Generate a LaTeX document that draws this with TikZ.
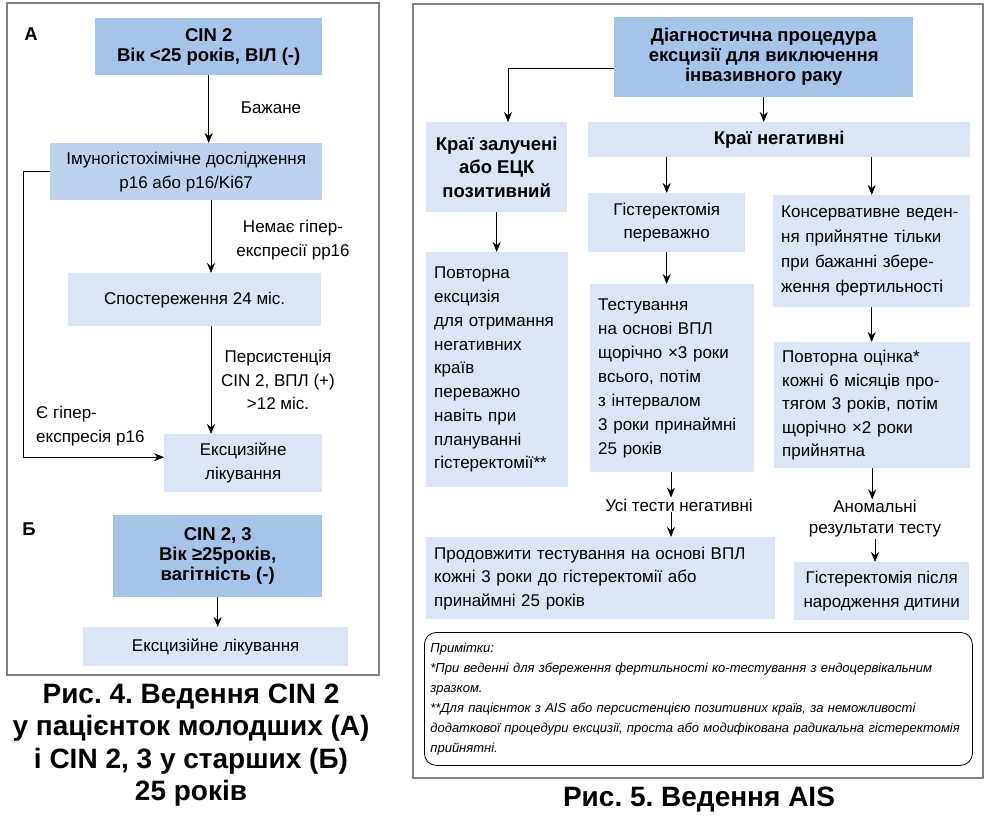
\documentclass[tikz,border=0pt]{standalone}
\usepackage{fontspec}
\setmainfont{Liberation Sans}
\usepackage{tikz}
\usetikzlibrary{arrows.meta}
\usetikzlibrary{calc}
\frenchspacing

\definecolor{boxdark}{RGB}{166,196,231}
\definecolor{boxmid}{RGB}{190,210,238}
\definecolor{boxlight}{RGB}{220,229,243}
\definecolor{framegray}{RGB}{128,128,128}

\newcommand{\txtsize}{\fontsize{17}{23.5}\selectfont}
\newcommand{\headsize}{\fontsize{18.5}{20}\selectfont\bfseries}
\newcommand{\capsize}{\fontsize{28}{32.5}\selectfont\bfseries}
\newcommand{\notesize}{\fontsize{13}{20}\selectfont\itshape}

\begin{document}
\begin{tikzpicture}[x=1pt,y=-1pt]
\tikzstyle{box}=[anchor=north west,inner sep=0pt,align=center,font=\txtsize]
\tikzstyle{head}=[box,fill=boxdark,font=\headsize]
\tikzstyle{lbox}=[anchor=north west,inner xsep=8pt,inner ysep=0pt,align=left,font=\txtsize,fill=boxlight]
\tikzstyle{lab}=[inner sep=1pt,align=center,font=\txtsize]
\tikzstyle{arr}=[line width=0.8pt,-{Stealth[length=10pt,width=8pt]}]
\tikzstyle{panel}=[draw=framegray,line width=1.2pt]
\useasboundingbox (0,0) rectangle (990,824);

% Рис. 4
\draw[panel] (7,3) rectangle (379,675);
\node[font=\headsize] (lblA) at (31,34) {А};
\node[head,minimum width=227pt,minimum height=57pt] (cinA) at (95,18) {CIN 2\\Вік <25 років, ВІЛ (-)};
\node[box,fill=boxmid,minimum width=272pt,minimum height=57pt,font=\fontsize{17}{24}\selectfont] (imuno) at (50,143) {Імуногістохімічне дослідження\\p16 або p16/Ki67};
\node[box,fill=boxlight,minimum width=253pt,minimum height=53pt] (obs) at (68,273) {Спостереження 24 міс.};
\node[box,fill=boxlight,minimum width=158pt,minimum height=58pt] (excA) at (164,434) {Ексцизійне\\лікування};
\coordinate (spineA) at (211,0);
\coordinate (loopA) at (23,0);
\draw[arr] (cinA.south) -- (cinA.south |- imuno.north);
\node[lab] (wish) at (271,108) {Бажане};
\draw[arr] (spineA |- imuno.south) -- (spineA |- obs.north);
\node[lab] (noexp) at (293,240) {Немає гіпер-\\експресії pp16};
\draw[arr] (spineA |- obs.south) -- (spineA |- excA.north);
\node[lab] (persist) at (278,380) {Персистенція\\CIN 2, ВПЛ (+)\\>12 міс.};
\draw[arr] (imuno.west) -- (imuno.west -| loopA) |- ([yshift=6pt]excA.west);
\node[lab,align=left,anchor=west] (yesexp) at (35,426) {Є гіпер-\\експресія p16};

\node[font=\headsize] (lblB) at (29,529) {Б};
\node[head,minimum width=209pt,minimum height=82pt] (cinB) at (113,515) {CIN 2, 3\\Вік ≥25років,\\вагітність (-)};
\node[box,fill=boxlight,minimum width=265pt,minimum height=39pt] (excB) at (83,627) {Ексцизійне лікування};
\draw[arr] (cinB.south) -- (cinB.south |- excB.north);

\node[font=\capsize,align=center] (cap4) at (191,745) {Рис. 4. Ведення CIN 2\\у пацієнток молодших (А)\\і CIN 2, 3 у старших (Б)\\25 років};

% Рис. 5
\draw[panel] (413,4) rectangle (983,778);
\node[head,minimum width=299pt,minimum height=80pt] (diag) at (614,17) {Діагностична процедура\\ексцизії для виключення\\інвазивного раку};
\node[box,fill=boxlight,font=\fontsize{18.5}{23.5}\selectfont\bfseries,minimum width=141pt,minimum height=90pt] (invol) at (426,122) {Краї залучені\\або ЕЦК\\позитивний};
\node[box,fill=boxlight,font=\headsize,minimum width=382pt,minimum height=35pt] (neg) at (588,122) {Краї негативні};
\coordinate (brR) at (508,0);
\draw[arr] ([yshift=-11pt]diag.west) -| (brR |- invol.north);
\draw[arr] (diag.south) -- (diag.south |- neg.north);
\node[lbox,text width=126pt,minimum height=235pt,font=\fontsize{17}{23.75}\selectfont] (reex) at (426,252) {Повторна\\ексцизія\\для отримання\\негативних\\країв\\переважно\\навіть при\\плануванні\\гістеректомії**};
\draw[arr] (invol.south) -- (invol.south |- reex.north);
\node[box,fill=boxlight,minimum width=157pt,minimum height=59pt] (hyst) at (588,193) {Гістеректомія\\переважно};
\node[lbox,text width=181pt,minimum height=112pt,font=\fontsize{17}{25}\selectfont] (cons) at (773,195) {Консервативне веден-\\ня прийнятне тільки\\при бажанні збере-\\ження фертильності};
\draw[arr] (hyst.north |- neg.south) -- (hyst.north);
\draw[arr] (cons.north |- neg.south) -- (cons.north);
\node[lbox,text width=148pt,minimum height=188pt,font=\fontsize{17}{24}\selectfont] (hpvtest) at (590,284) {Тестування\\на основі ВПЛ\\щорічно ×3 роки\\всього, потім\\з інтервалом\\3 роки принаймні\\25 років};
\draw[arr] (hyst.south) -- (hyst.south |- hpvtest.north);
\node[lbox,text width=180pt,minimum height=126pt] (reval) at (774,342) {Повторна оцінка*\\кожні 6 місяців про-\\тягом 3 років, потім\\щорічно ×2 роки\\прийнятна};
\draw[arr] (cons.south) -- (cons.south |- reval.north);
\node[lab] (allneg) at (679,505) {Усі тести негативні};
\coordinate (spineR) at (671,0);
\draw[arr] (spineR |- hpvtest.south) -- (spineR |- allneg.north);
\node[lbox,text width=333pt,minimum height=82pt] (cont) at (426,537) {Продовжити тестування на основі ВПЛ\\кожні 3 роки до гістеректомії або\\принаймні 25 років};
\draw[arr] (spineR |- allneg.south) -- (spineR |- cont.north);
\node[lab,font=\fontsize{17}{21}\selectfont] (abn) at (875,519) {Аномальні\\результати тесту};
\node[box,fill=boxlight,minimum width=175pt,minimum height=58pt] (hystb) at (794,562) {Гістеректомія після\\народження дитини};
\draw[arr] (reval.south) -- (reval.south |- abn.north);
\draw[arr] (abn.south) -- (abn.south |- hystb.north);

\node[draw,rounded corners=12pt,line width=0.8pt,anchor=north west,inner xsep=6pt,inner ysep=0pt,text width=536pt,minimum height=133pt,align=left,font=\notesize] (notes) at (424,632) {Примітки:\\
\mbox{*При веденні для збереження фертильності ко-тестування з ендоцервікальним}\\
зразком.\\
\mbox{**Для пацієнток з AIS або персистенцією позитивних країв, за неможливості}\\
\mbox{додаткової процедури ексцизії, проста або модифікована радикальна гістеректомія}\\
прийнятні.};

\node[font=\capsize] (cap5) at (699,800) {Рис. 5. Ведення AIS};
\end{tikzpicture}
\end{document}
